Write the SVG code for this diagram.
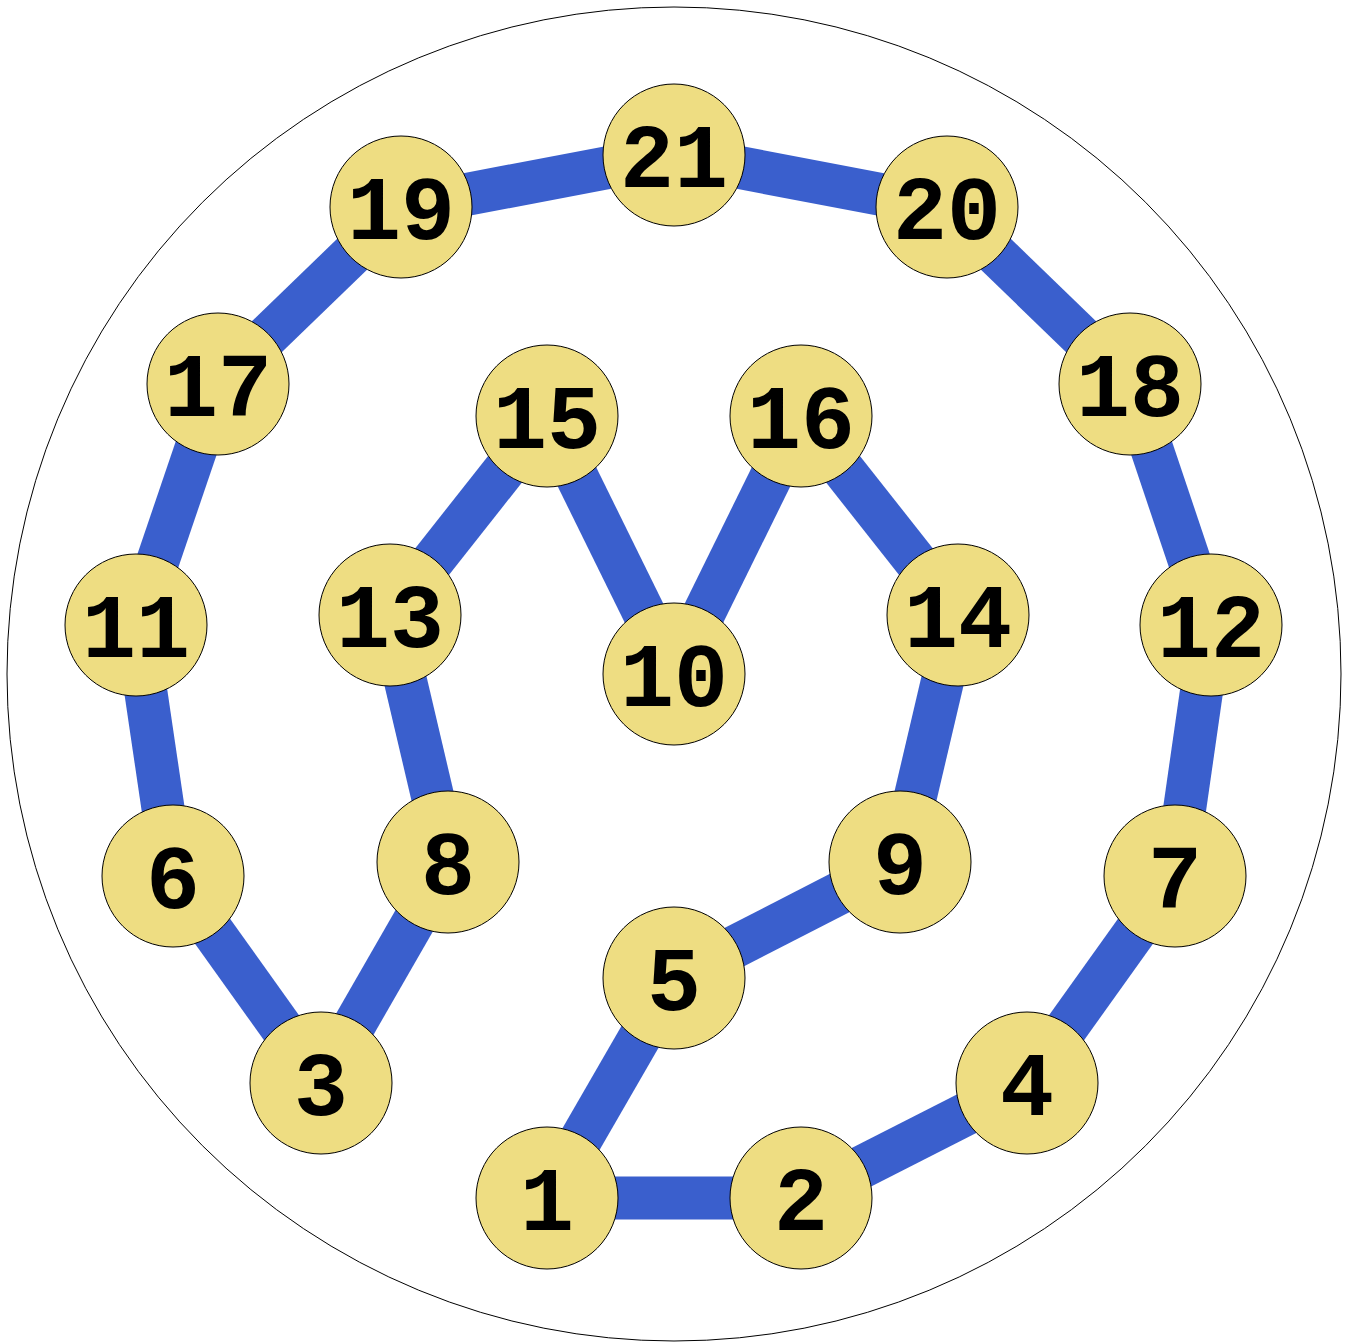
<svg xmlns="http://www.w3.org/2000/svg" width="1350" height="1343" viewBox="0 0 1350 1343">
<style>
.e{stroke:#3a5fcd;stroke-width:43;fill:none}
.n circle{fill:#eedd82;stroke:#000;stroke-width:1}
.n text{font-family:"Liberation Mono","Courier New",monospace;font-weight:bold;font-size:90px;text-anchor:middle;fill:#000}
</style>
<rect width="1350" height="1343" fill="#fff"/>
<circle cx="674" cy="674" r="667" fill="none" stroke="#000" stroke-width="1"/>
<g id="edges">
<line class="e" x1="401" y1="207" x2="674" y2="155"/>
<line class="e" x1="674" y1="155" x2="947" y2="207"/>
<line class="e" x1="401" y1="207" x2="218" y2="384"/>
<line class="e" x1="947" y1="207" x2="1130" y2="384"/>
<line class="e" x1="218" y1="384" x2="136" y2="625"/>
<line class="e" x1="1130" y1="384" x2="1211" y2="625"/>
<line class="e" x1="136" y1="625" x2="173" y2="876"/>
<line class="e" x1="1211" y1="625" x2="1175" y2="876"/>
<line class="e" x1="173" y1="876" x2="321" y2="1083"/>
<line class="e" x1="1175" y1="876" x2="1027" y2="1083"/>
<line class="e" x1="321" y1="1083" x2="448" y2="862"/>
<line class="e" x1="448" y1="862" x2="390" y2="615"/>
<line class="e" x1="390" y1="615" x2="547" y2="416"/>
<line class="e" x1="547" y1="416" x2="674" y2="674"/>
<line class="e" x1="674" y1="674" x2="801" y2="416"/>
<line class="e" x1="801" y1="416" x2="958" y2="615"/>
<line class="e" x1="958" y1="615" x2="900" y2="862"/>
<line class="e" x1="900" y1="862" x2="674" y2="978"/>
<line class="e" x1="674" y1="978" x2="547" y2="1198"/>
<line class="e" x1="547" y1="1198" x2="801" y2="1198"/>
<line class="e" x1="801" y1="1198" x2="1027" y2="1083"/>
</g>
<g id="n21" class="n"><circle cx="674" cy="155" r="71"/><text x="674" y="187">21</text></g>
<g id="n19" class="n"><circle cx="401" cy="207" r="71"/><text x="401" y="239">19</text></g>
<g id="n20" class="n"><circle cx="947" cy="207" r="71"/><text x="947" y="239">20</text></g>
<g id="n17" class="n"><circle cx="218" cy="384" r="71"/><text x="218" y="416">17</text></g>
<g id="n18" class="n"><circle cx="1130" cy="384" r="71"/><text x="1130" y="416">18</text></g>
<g id="n15" class="n"><circle cx="547" cy="416" r="71"/><text x="547" y="448">15</text></g>
<g id="n16" class="n"><circle cx="801" cy="416" r="71"/><text x="801" y="448">16</text></g>
<g id="n13" class="n"><circle cx="390" cy="615" r="71"/><text x="390" y="647">13</text></g>
<g id="n14" class="n"><circle cx="958" cy="615" r="71"/><text x="958" y="647">14</text></g>
<g id="n11" class="n"><circle cx="136" cy="625" r="71"/><text x="136" y="657">11</text></g>
<g id="n12" class="n"><circle cx="1211" cy="625" r="71"/><text x="1211" y="657">12</text></g>
<g id="n10" class="n"><circle cx="674" cy="674" r="71"/><text x="674" y="706">10</text></g>
<g id="n8" class="n"><circle cx="448" cy="862" r="71"/><text x="448" y="894">8</text></g>
<g id="n9" class="n"><circle cx="900" cy="862" r="71"/><text x="900" y="894">9</text></g>
<g id="n6" class="n"><circle cx="173" cy="876" r="71"/><text x="173" y="908">6</text></g>
<g id="n7" class="n"><circle cx="1175" cy="876" r="71"/><text x="1175" y="908">7</text></g>
<g id="n5" class="n"><circle cx="674" cy="978" r="71"/><text x="674" y="1010">5</text></g>
<g id="n3" class="n"><circle cx="321" cy="1083" r="71"/><text x="321" y="1115">3</text></g>
<g id="n4" class="n"><circle cx="1027" cy="1083" r="71"/><text x="1027" y="1115">4</text></g>
<g id="n1" class="n"><circle cx="547" cy="1198" r="71"/><text x="547" y="1230">1</text></g>
<g id="n2" class="n"><circle cx="801" cy="1198" r="71"/><text x="801" y="1230">2</text></g>
</svg>
